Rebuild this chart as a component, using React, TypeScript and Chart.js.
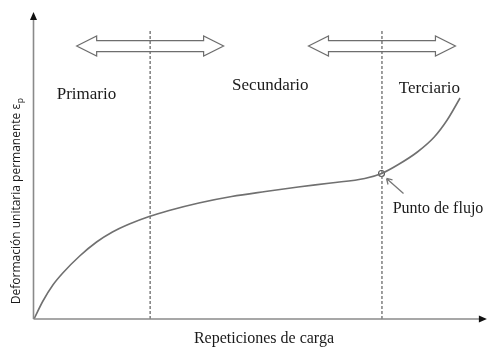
import React, { useEffect, useRef } from "react";
import { Chart, registerables } from "chart.js";

Chart.register(...registerables);

// Schematic creep curve: load repetitions (x, 0-100) vs permanent strain (y, 0-100)
const repetitions = [0, 1.98, 4.18, 6.37, 10.11, 13.85, 17.36, 21.1, 25.49, 29.89, 36.48, 43.74, 51.21, 58.46, 65.71, 73.19, 76.92, 80.44, 84.84, 88.57, 91.43, 94.29];
const strain = [0, 5.86, 11.07, 14.98, 20.52, 25.08, 28.34, 30.94, 33.39, 35.34, 37.79, 39.9, 41.53, 42.99, 44.3, 45.77, 47.4, 50.16, 54.4, 59.28, 64.82, 71.99];

// Phase boundaries (x) and the flow point
const phaseBoundaries = [25.7, 77.0];
const flowPoint = { x: 76.9, y: 47.4 };
const phaseNames = ["Primario", "Secundario", "Terciario"];
const flowLabel = "Punto de flujo";
const xTitle = "Repeticiones de carga";
const yTitle = "Deformación unitaria permanente ε";
const yTitleSub = "p";

const annotationPlugin = {
  id: "schematic",
  beforeDatasetsDraw(chart: any) {
    const { ctx, scales } = chart;
    const xs = scales.x;
    const ys = scales.y;
    // double arrows centred on each boundary
    const yc = ys.getPixelForValue(88.9);
    phaseBoundaries.forEach((b) => {
      const x1 = xs.getPixelForValue(b - 16.26);
      const x2 = xs.getPixelForValue(b + 16.26);
      const h = 5.5, H = 10, L = 20;
      ctx.save();
      ctx.beginPath();
      ctx.moveTo(x1, yc);
      ctx.lineTo(x1 + L, yc - H);
      ctx.lineTo(x1 + L, yc - h);
      ctx.lineTo(x2 - L, yc - h);
      ctx.lineTo(x2 - L, yc - H);
      ctx.lineTo(x2, yc);
      ctx.lineTo(x2 - L, yc + H);
      ctx.lineTo(x2 - L, yc + h);
      ctx.lineTo(x1 + L, yc + h);
      ctx.lineTo(x1 + L, yc + H);
      ctx.closePath();
      ctx.fillStyle = "#ffffff";
      ctx.fill();
      ctx.strokeStyle = "#6e6e6e";
      ctx.lineWidth = 1.2;
      ctx.stroke();
      ctx.restore();
    });
  },
  afterDatasetsDraw(chart: any) {
    const { ctx, scales, chartArea } = chart;
    const xs = scales.x;
    const ys = scales.y;
    const left = chartArea.left - 0.5;
    const bottom = chartArea.bottom;
    ctx.save();
    // axes
    ctx.strokeStyle = "#8a8a8a";
    ctx.lineWidth = 1.6;
    ctx.beginPath();
    ctx.moveTo(left, bottom);
    ctx.lineTo(left, chartArea.top + 6);
    ctx.moveTo(left, bottom);
    ctx.lineTo(chartArea.right - 5, bottom);
    ctx.stroke();
    ctx.fillStyle = "#111111";
    ctx.beginPath();
    ctx.moveTo(left, chartArea.top);
    ctx.lineTo(left - 3.5, chartArea.top + 8);
    ctx.lineTo(left + 3.5, chartArea.top + 8);
    ctx.closePath();
    ctx.fill();
    ctx.beginPath();
    ctx.moveTo(chartArea.right + 1, bottom);
    ctx.lineTo(chartArea.right - 7, bottom - 3.5);
    ctx.lineTo(chartArea.right - 7, bottom + 3.5);
    ctx.closePath();
    ctx.fill();

    // phase labels
    ctx.fillStyle = "#1a1a1a";
    ctx.font = "17px 'Liberation Serif', serif";
    ctx.textAlign = "center";
    ctx.textBaseline = "middle";
    const labelPos = [
      { x: 11.6, y: 73.0 },
      { x: 52.3, y: 75.9 },
      { x: 87.5, y: 75.2 },
    ];
    phaseNames.forEach((n, i) => {
      ctx.fillText(n, xs.getPixelForValue(labelPos[i].x), ys.getPixelForValue(labelPos[i].y));
    });
    ctx.font = "16px 'Liberation Serif', serif";
    ctx.fillText(flowLabel, xs.getPixelForValue(89.4), ys.getPixelForValue(35.8));
    ctx.fillText(xTitle, (chartArea.left + chartArea.right) / 2 + 4, bottom + 20);

    // pointer arrow to flow point
    const fx = xs.getPixelForValue(flowPoint.x);
    const fy = ys.getPixelForValue(flowPoint.y);
    ctx.strokeStyle = "#777777";
    ctx.lineWidth = 1.3;
    ctx.beginPath();
    ctx.moveTo(fx + 22, fy + 20);
    ctx.lineTo(fx + 5, fy + 5);
    ctx.moveTo(fx + 5, fy + 5);
    ctx.lineTo(fx + 11, fy + 6.5);
    ctx.moveTo(fx + 5, fy + 5);
    ctx.lineTo(fx + 6.5, fy + 11);
    ctx.stroke();

    // y title
    ctx.save();
    ctx.translate(17, 201);
    ctx.rotate(-Math.PI / 2);
    ctx.fillStyle = "#1a1a1a";
    ctx.font = "12px 'Open Sans', sans-serif";
    ctx.textAlign = "left";
    ctx.textBaseline = "middle";
    const total = ctx.measureText(yTitle).width;
    ctx.fillText(yTitle, -total / 2 - 3, 0);
    ctx.font = "8.5px 'Open Sans', sans-serif";
    ctx.fillText(yTitleSub, total / 2 - 2.5, 3.5);
    ctx.restore();
    ctx.restore();
  },
};

export default function App() {
  const ref = useRef<HTMLCanvasElement | null>(null);
  useEffect(() => {
    if (!ref.current) return;
    const curve = repetitions.map((x, i) => ({ x, y: strain[i] }));
    const chart = new Chart(ref.current, {
      type: "line",
      data: {
        datasets: [
          {
            data: curve,
            borderColor: "#707070",
            borderWidth: 1.6,
            pointRadius: 0,
            cubicInterpolationMode: "monotone",
            fill: false,
          },
          ...phaseBoundaries.map((b) => ({
            data: [{ x: b, y: 0 }, { x: b, y: 94 }],
            borderColor: "#6a6a6a",
            borderWidth: 1.3,
            borderDash: [3, 2],
            pointRadius: 0,
            fill: false,
          })),
          {
            data: [flowPoint],
            pointRadius: 3,
            pointBorderWidth: 1.1,
            pointBorderColor: "#555555",
            pointBackgroundColor: "rgba(255,255,255,0.6)",
            showLine: false,
          },
        ] as any,
      },
      options: {
        animation: false,
        responsive: false,
        layout: { padding: { left: 34, right: 2, top: 12, bottom: 30 } },
        plugins: { legend: { display: false }, tooltip: { enabled: false } },
        scales: {
          x: { type: "linear", min: 0, max: 100, display: false },
          y: { type: "linear", min: 0, max: 100, display: false },
        },
      },
      plugins: [annotationPlugin],
    });
    return () => chart.destroy();
  }, []);
  return (
    <div style={{ position: "fixed", left: 0, top: 0, width: 491, height: 349, background: "#fff" }}>
      <canvas ref={ref} width={491} height={349} style={{ display: "block", width: 491, height: 349 }} />
    </div>
  );
}
